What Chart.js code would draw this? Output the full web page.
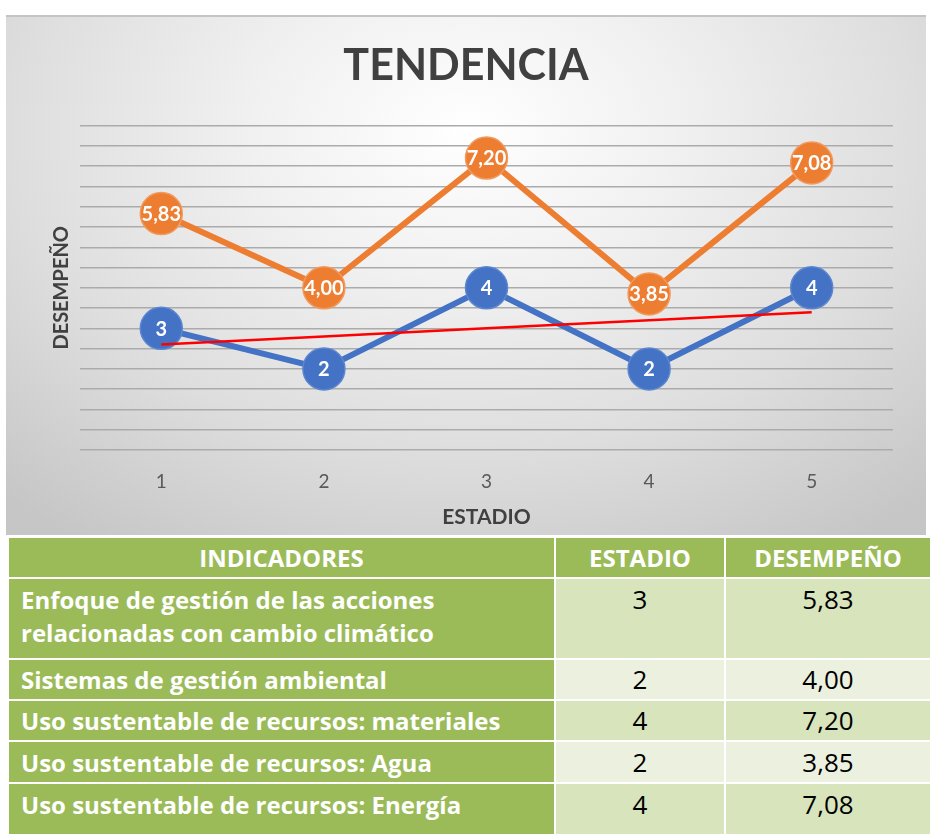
<!DOCTYPE html>
<html>
<head>
<meta charset="utf-8">
<script src="https://cdn.jsdelivr.net/npm/chart.js@4.4.1/dist/chart.umd.min.js"></script>
<style>
  html, body { margin: 0; padding: 0; background: #ffffff; width: 932px; height: 835px; overflow: hidden; }
  #chartBox {
    position: absolute; left: 6px; top: 15px; width: 920px; height: 520px;
    background: radial-gradient(ellipse 75% 95% at 50% 22%, #ffffff 0%, #f1f1f1 30%, #dedede 65%, #c6c6c6 100%);
    border-top: 2px solid #c4c4c4;
    box-sizing: border-box;
  }
  #chartBox canvas { position: absolute; left: 0; top: 0; }
  table {
    position: absolute; left: 7px; top: 536px; width: 923px;
    border-collapse: collapse; table-layout: fixed;
    font-family: "Open Sans", Lato, sans-serif;
  }
  td, th { border: 2px solid #ffffff; padding: 0; overflow: hidden; }
  th { background: #9BBB59; color: #ffffff; font-weight: bold; font-size: 24px; text-align: center; line-height: 30px; }
  td.ind { background: #9BBB59; color: #ffffff; font-weight: bold; font-size: 24px; text-align: left; padding-left: 12px; line-height: 33px; vertical-align: top; padding-top: 4px; white-space: nowrap; }
  td.val { color: #000000; font-size: 26px; text-align: center; vertical-align: top; padding-top: 4px; line-height: 33px; }
  tr.odd td.val { background: #D7E4BC; }
  tr.even td.val { background: #EBF1DE; }
  tr.mid td { vertical-align: middle; padding-top: 0; }
</style>
</head>
<body>
<div id="chartBox"><canvas id="c" width="920" height="518"></canvas></div>
<table id="tbl">
  <colgroup><col style="width:547px"><col style="width:170px"><col style="width:206px"></colgroup>
  <thead><tr id="hdr" style="height:41px"></tr></thead>
  <tbody id="tb"></tbody>
</table>
<script>
// ---- data ----
const categories = ['1', '2', '3', '4', '5'];
const estadio = [3, 2, 4, 2, 4];
const desempeno = [5.83, 4.00, 7.20, 3.85, 7.08];
const tendencia = [2.6, 2.8, 3.0, 3.2, 3.4];
const headers = ['INDICADORES', 'ESTADIO', 'DESEMPEÑO'];
const indicadores = [
  'Enfoque de gestión de las acciones<br>relacionadas con cambio climático',
  'Sistemas de gestión ambiental',
  'Uso sustentable de recursos: materiales',
  'Uso sustentable de recursos: Agua',
  'Uso sustentable de recursos: Energía'
];
const rowHeights = [81, 41, 41, 42, 52];

const fmt = v => v.toFixed(2).replace('.', ',');

// ---- table ----
const hdr = document.getElementById('hdr');
headers.forEach(h => { const th = document.createElement('th'); th.textContent = h; hdr.appendChild(th); });
const tb = document.getElementById('tb');
indicadores.forEach((name, i) => {
  const tr = document.createElement('tr');
  tr.className = (i % 2 === 0 ? 'odd' : 'even') + ((i > 0 && i < 4) ? ' mid' : '');
  tr.style.height = rowHeights[i] + 'px';
  tr.innerHTML = '<td class="ind">' + name + '</td><td class="val">' + estadio[i] + '</td><td class="val">' + fmt(desempeno[i]) + '</td>';
  tb.appendChild(tr);
});

// ---- chart ----
const labelPlugin = {
  id: 'pointLabels',
  afterDatasetsDraw(chart) {
    const ctx = chart.ctx;
    ctx.save();
    ctx.font = 'bold 20px Lato, "Open Sans", sans-serif';
    ctx.fillStyle = '#ffffff';
    ctx.textAlign = 'center';
    ctx.textBaseline = 'middle';
    chart.data.datasets.forEach((ds, di) => {
      if (!ds.showLabels) return;
      const meta = chart.getDatasetMeta(di);
      meta.data.forEach((pt, i) => {
        const v = ds.data[i];
        ctx.fillText(ds.labelFmt(v), pt.x, pt.y + 1);
      });
    });
    ctx.restore();
  }
};

new Chart(document.getElementById('c'), {
  type: 'line',
  data: {
    labels: categories,
    datasets: [
      {
        label: 'Tendencia', data: tendencia, borderColor: '#FF0000', borderWidth: 2.5,
        pointRadius: 0, fill: false, order: 0
      },
      {
        label: 'Estadio', data: estadio, borderColor: '#4472C4', backgroundColor: '#4472C4',
        borderWidth: 6, pointRadius: 21, pointBorderWidth: 1.5, pointBorderColor: '#5b86d0',
        pointBackgroundColor: '#4472C4', order: 1, showLabels: true, labelFmt: v => String(v)
      },
      {
        label: 'Desempeño', data: desempeno, borderColor: '#ED7D31', backgroundColor: '#ED7D31',
        borderWidth: 6, pointRadius: 21, pointBorderWidth: 1.5, pointBorderColor: '#f19a5d',
        pointBackgroundColor: '#ED7D31', order: 2, showLabels: true, labelFmt: v => fmt(v)
      }
    ]
  },
  options: {
    responsive: false,
    animation: false,
    layout: { autoPadding: false, padding: { left: 33, right: 33, top: 0, bottom: 3 } },
    plugins: {
      legend: { display: false },
      tooltip: { enabled: false },
      title: {
        display: true, text: 'TENDENCIA', color: '#404040',
        font: { family: 'Lato, "Open Sans", sans-serif', size: 43, weight: 'bold', lineHeight: 1.2 },
        padding: { top: 23, bottom: 34 }
      }
    },
    scales: {
      x: {
        type: 'category', offset: true,
        grid: { display: false, drawTicks: false },
        border: { display: false },
        ticks: { color: '#595959', font: { family: 'Lato, "Open Sans", sans-serif', size: 19 }, padding: 20 },
        title: {
          display: true, text: 'ESTADIO', color: '#404040',
          font: { family: 'Lato, "Open Sans", sans-serif', size: 21, weight: 'bold', lineHeight: 1.2 },
          padding: { top: -8, bottom: 2 }
        }
      },
      y: {
        min: 0, max: 8,
        ticks: { display: false, stepSize: 0.5 },
        grid: { color: '#ababab', lineWidth: 1.5, drawTicks: false },
        border: { display: false },
        title: {
          display: true, text: 'DESEMPEÑO', color: '#404040',
          font: { family: 'Lato, "Open Sans", sans-serif', size: 20, weight: 'bold', lineHeight: 1.2 },
          padding: { top: 11, bottom: 6 }
        }
      }
    }
  },
  plugins: [labelPlugin]
});
</script>
</body>
</html>
